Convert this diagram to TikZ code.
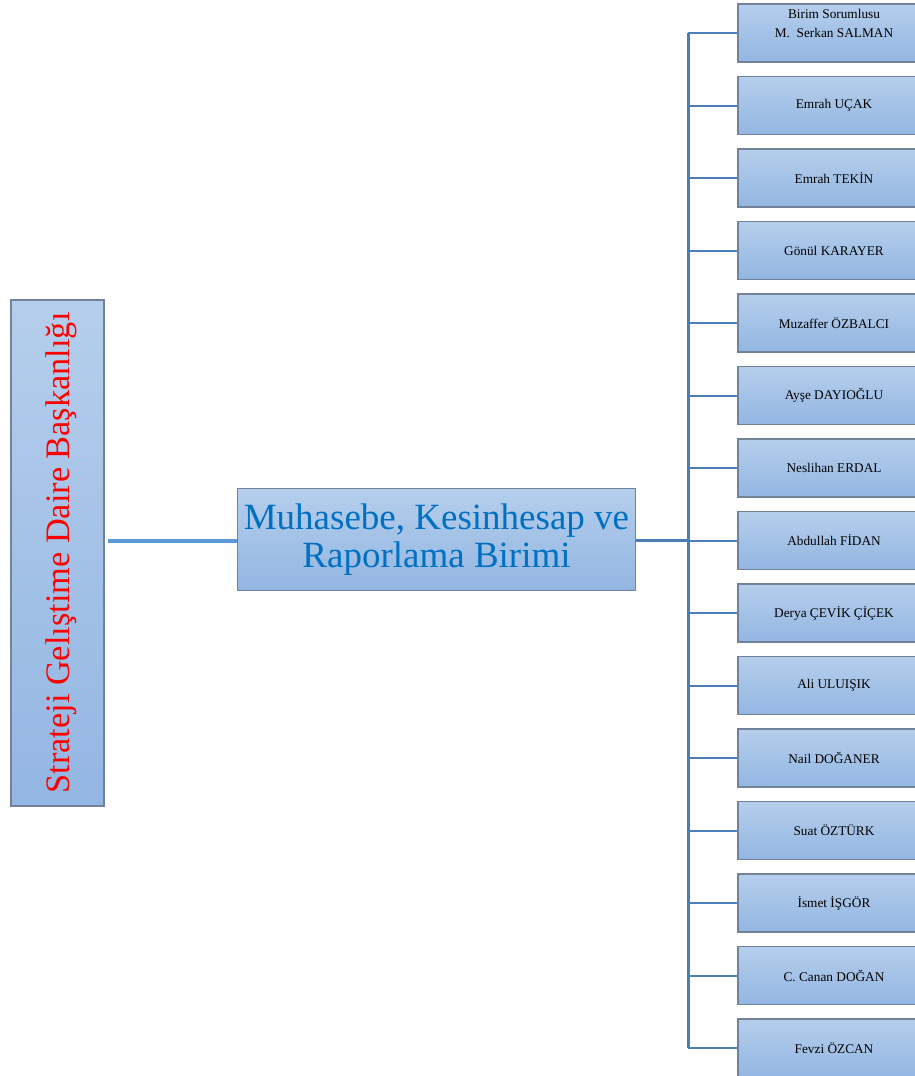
\documentclass[tikz,border=0pt]{standalone}
\usepackage{fontspec}
\setmainfont{Liberation Serif}
\definecolor{boxtop}{HTML}{B5CEEC}
\definecolor{boxbot}{HTML}{93B6E2}
\definecolor{boxline}{HTML}{72829A}
\definecolor{linkA}{HTML}{5B9BD5}
\definecolor{linkB}{HTML}{4A7EB5}
\definecolor{titleblue}{HTML}{0070C0}
\begin{document}
\begin{tikzpicture}[x=1pt,y=-1pt,
  orgbox/.style={draw=boxline,line width=1.4pt,top color=boxtop,bottom color=boxbot,inner sep=0pt},
  personbox/.style={orgbox,minimum width=192pt,minimum height=58pt,font=\fontsize{13.3}{19}\selectfont,align=center},
  buslink/.style={draw=linkB,line width=2pt}]
\useasboundingbox (0,0) rectangle (915,1076);
\node[orgbox,minimum width=93pt,minimum height=506pt] (top) at (57.5,553)
  {\hspace*{7pt}\rotatebox{90}{\fontsize{34.3}{40}\selectfont\color{red}Strateji Gelıştime Daire Başkanlığı}};
\node[orgbox,minimum width=398pt,minimum height=102pt,align=center,
  font=\fontsize{37}{38}\selectfont,text=titleblue] (unit) at (436.5,539.5)
  {Muhasebe, Kesinhesap ve\\Raporlama Birimi};
\draw[linkA,line width=4pt] ([xshift=3pt]top.east|-0,541) coordinate (l1) -- (unit.west|-0,541);
\coordinate (bustop) at (688,33);
\coordinate (busbot) at (688,1047.5);
\coordinate (busmid) at (688,540);
\draw[linkB,line width=3pt] (unit.east|-busmid) -- (busmid);
\draw[linkB,line width=3pt] (bustop) -- (busbot);
\foreach \i/\t in {0/{Birim Sorumlusu\\M.~~Serkan SALMAN\\\mbox{}},
  1/Emrah UÇAK,2/Emrah TEKİN,3/Gönül KARAYER,4/Muzaffer ÖZBALCI,5/Ayşe DAYIOĞLU,
  6/Neslihan ERDAL,7/Abdullah FİDAN,8/Derya ÇEVİK ÇİÇEK,9/Ali ULUIŞIK,
  10/Nail DOĞANER,11/Suat ÖZTÜRK,12/İsmet İŞGÖR,13/C. Canan DOĞAN,14/Fevzi ÖZCAN}{
  \node[personbox] (p\i) at (834,33+72.5*\i) {\t};
  \coordinate (b\i) at (688,33+72.5*\i);
  \draw[buslink] (b\i) -- (p\i.west);
}
\end{tikzpicture}
\end{document}
